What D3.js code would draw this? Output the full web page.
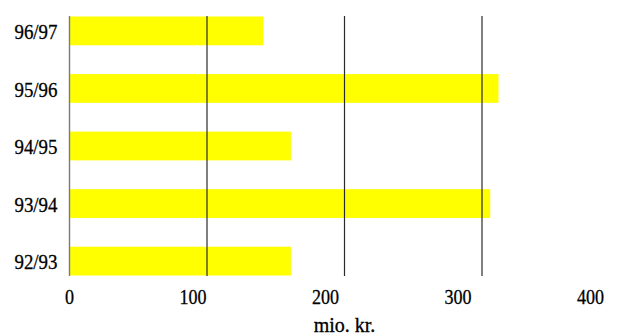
<!DOCTYPE html>
<html>
<head>
<meta charset="utf-8">
<script src="https://cdn.jsdelivr.net/npm/d3@7"></script>
<style>
  html, body { margin: 0; padding: 0; background: #fff; }
  svg { display: block; }
  text { font-family: "Liberation Serif", "Times New Roman", serif; fill: #000; stroke: #000; stroke-width: 0.3px; }
</style>
</head>
<body>
<svg id="chart" width="618" height="336"></svg>
<script>
// Seasons, top to bottom
const seasons = ["96/97", "95/96", "94/95", "93/94", "92/93"];
// Amount per season (mio. kr.)
const amounts = [141, 312, 161, 306, 161];
// Axis tick labels
const tickValues = [0, 100, 200, 300, 400];
const gridValues = [100, 200, 300];
const axisTitle = "mio. kr.";

const svg = d3.select("#chart");
const plotTop = 16.5, plotBottom = 275.5;
const squeeze = 0.86;

const x = d3.scaleLinear().domain([0, 400]).range([69.5, 619.5]);
// tick labels sit on their own, slightly narrower spacing
const xLabel = d3.scaleLinear().domain([0, 400]).range([73.5, 603.5]);
const y = d3.scaleBand().domain(seasons).range([plotTop, plotBottom])
  .paddingInner(0.5).paddingOuter(0);

const data = seasons.map((s, i) => ({ season: s, value: amounts[i] }));

// bars
svg.append("g").selectAll("rect").data(data).join("rect")
  .attr("x", x(0) + 0.5)
  .attr("y", d => y(d.season))
  .attr("width", d => x(d.value) - x(0) - 0.5)
  .attr("height", y.bandwidth())
  .attr("fill", "#ffff00");

// vertical gridlines drawn over the bars
svg.append("g").selectAll("line").data(gridValues).join("line")
  .attr("x1", d => x(d)).attr("x2", d => x(d))
  .attr("y1", plotTop - 0.5).attr("y2", plotBottom + 0.5)
  .attr("stroke", "#2a2a2a").attr("stroke-width", 1.2);

// value axis line
svg.append("line")
  .attr("x1", x(0)).attr("x2", x(0))
  .attr("y1", plotTop - 0.5).attr("y2", plotBottom + 0.5)
  .attr("stroke", "#7a7a7a").attr("stroke-width", 1.4);

// category labels
const yAxis = svg.append("g")
  .attr("transform", "translate(57.5,0)")
  .call(d3.axisLeft(y).tickSize(0).tickPadding(0));
yAxis.select(".domain").remove();
yAxis.selectAll("text")
  .attr("x", 0).attr("dy", 0)
  .attr("y", 8.3)
  .attr("text-anchor", "end")
  .attr("transform", `scale(${squeeze},1)`)
  .style("font-family", "'Liberation Serif', serif")
  .style("font-size", "22px")
  .attr("fill", "#000");

// value tick labels
const xAxis = svg.append("g")
  .attr("transform", "translate(0,304)")
  .call(d3.axisBottom(xLabel).tickValues(tickValues).tickSize(0).tickPadding(0)
    .tickFormat(d3.format("d")));
xAxis.select(".domain").remove();
xAxis.selectAll("text")
  .attr("y", 0).attr("dy", 0)
  .attr("text-anchor", "end")
  .attr("transform", `scale(${squeeze},1)`)
  .style("font-family", "'Liberation Serif', serif")
  .style("font-size", "21px")
  .attr("fill", "#000");

// axis title
svg.append("text")
  .attr("x", (x.range()[0] + x.range()[1]) / 2)
  .attr("y", 332)
  .attr("text-anchor", "middle")
  .style("font-size", "20px")
  .text(axisTitle);
</script>
</body>
</html>
